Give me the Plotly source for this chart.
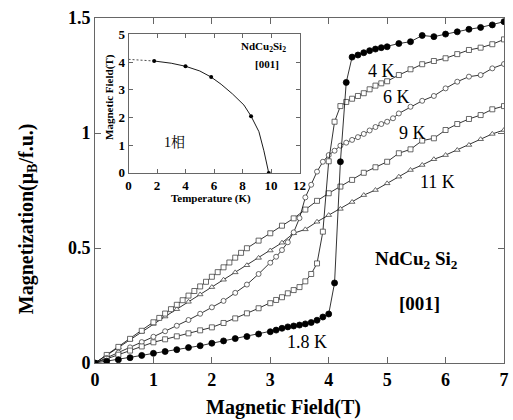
import plotly.graph_objects as go

# ---------------- data ----------------
B_18 = [0, 0.2, 0.4, 0.6, 0.8, 1.0, 1.2, 1.4, 1.6, 1.8, 2.0, 2.2, 2.4, 2.6, 2.8, 3.0, 3.1, 3.2, 3.3, 3.4,
        3.5, 3.6, 3.7, 3.8, 3.9, 4.0, 4.1, 4.2, 4.3, 4.4, 4.5, 4.6, 4.7, 4.8, 4.9, 5.0, 5.2, 5.4, 5.6, 5.8,
        6.0, 6.2, 6.4, 6.6, 6.8, 7.0]
M_18 = [0, 0.008, 0.014, 0.023, 0.033, 0.042, 0.05, 0.058, 0.067, 0.075, 0.086, 0.096, 0.106, 0.115, 0.126,
        0.136, 0.143, 0.151, 0.157, 0.161, 0.165, 0.17, 0.176, 0.186, 0.2, 0.213, 0.348, 0.875, 1.22, 1.33,
        1.339, 1.349, 1.358, 1.365, 1.371, 1.375, 1.389, 1.397, 1.424, 1.419, 1.43, 1.44, 1.451, 1.459,
        1.47, 1.484]

B_4 = [0, 0.2, 0.4, 0.6, 0.8, 1.0, 1.2, 1.4, 1.6, 1.8, 2.0, 2.2, 2.4, 2.6, 2.8, 3.0, 3.1, 3.2, 3.3, 3.4,
       3.5, 3.6, 3.7, 3.8, 3.9, 4.0, 4.1, 4.2, 4.3, 4.4, 4.5, 4.6, 4.7, 4.8, 4.9, 5.0, 5.2, 5.4, 5.6, 5.8,
       6.0, 6.2, 6.4, 6.6, 6.8, 7.0]
M_4 = [0, 0.018, 0.036, 0.054, 0.072, 0.09, 0.103, 0.116, 0.129, 0.142, 0.155, 0.174, 0.194, 0.216, 0.238,
       0.26, 0.274, 0.286, 0.303, 0.317, 0.33, 0.355, 0.387, 0.433, 0.571, 0.877, 1.049, 1.117, 1.135,
       1.149, 1.161, 1.173, 1.19, 1.206, 1.216, 1.225, 1.252, 1.277, 1.299, 1.313, 1.325, 1.343, 1.361,
       1.371, 1.386, 1.407]

B_6 = [0, 0.2, 0.4, 0.6, 0.8, 1.0, 1.2, 1.4, 1.6, 1.8, 2.0, 2.2, 2.4, 2.6, 2.8, 3.0, 3.1, 3.2, 3.3, 3.4,
       3.5, 3.6, 3.7, 3.8, 3.9, 4.0, 4.1, 4.2, 4.3, 4.4, 4.5, 4.6, 4.7, 4.8, 4.9, 5.0, 5.1, 5.2, 5.4, 5.6,
       5.8, 6.0, 6.2, 6.4, 6.6, 6.8, 7.0]
M_6 = [0, 0.022, 0.045, 0.068, 0.091, 0.114, 0.138, 0.162, 0.187, 0.214, 0.242, 0.27, 0.305, 0.341, 0.387,
       0.436, 0.462, 0.491, 0.525, 0.568, 0.63, 0.72, 0.775, 0.832, 0.875, 0.904, 0.923, 0.945, 0.958,
       0.97, 0.982, 0.996, 1.011, 1.026, 1.039, 1.049, 1.064, 1.085, 1.114, 1.14, 1.161, 1.194, 1.223,
       1.245, 1.252, 1.281, 1.30]

B_9 = [0, 0.2, 0.4, 0.6, 0.8, 1.0, 1.1, 1.2, 1.3, 1.4, 1.5, 1.6, 1.7, 1.8, 1.9, 2.0, 2.1, 2.2, 2.3, 2.4,
       2.5, 2.6, 2.8, 3.0, 3.2, 3.4, 3.6, 3.8, 4.0, 4.2, 4.4, 4.6, 4.8, 5.0, 5.2, 5.4, 5.6, 5.8, 6.0, 6.2,
       6.4, 6.6, 6.8, 7.0]
M_9 = [0, 0.035, 0.07, 0.105, 0.14, 0.177, 0.196, 0.215, 0.234, 0.253, 0.273, 0.293, 0.313, 0.333, 0.353,
       0.375, 0.395, 0.416, 0.437, 0.458, 0.479, 0.499, 0.532, 0.564, 0.597, 0.629, 0.667, 0.705, 0.738,
       0.767, 0.796, 0.827, 0.851, 0.875, 0.912, 0.929, 0.967, 0.977, 1.013, 1.039, 1.061, 1.078, 1.103,
       1.117]

B_11 = [0, 0.2, 0.4, 0.6, 0.8, 1.0, 1.2, 1.4, 1.6, 1.8, 2.0, 2.2, 2.4, 2.6, 2.8, 3.0, 3.2, 3.4, 3.6, 3.8,
        4.0, 4.2, 4.4, 4.6, 4.8, 5.0, 5.2, 5.4, 5.6, 5.8, 6.0, 6.2, 6.4, 6.6, 6.8, 7.0]
M_11 = [0, 0.034, 0.068, 0.102, 0.136, 0.17, 0.202, 0.234, 0.266, 0.298, 0.33, 0.362, 0.394, 0.425, 0.457,
        0.489, 0.523, 0.564, 0.581, 0.614, 0.643, 0.67, 0.70, 0.73, 0.752, 0.781, 0.81, 0.839, 0.861, 0.886,
        0.904, 0.926, 0.948, 0.973, 0.996, 1.013]

# inset phase boundary
T_pts = [1.8, 4.0, 5.8, 8.6, 9.84]
H_pts = [4.04, 3.85, 3.46, 2.05, 0.0]
T_line = [1.8, 3.0, 4.0, 5.0, 5.8, 6.5, 7.3, 8.1, 8.6, 9.15, 9.5, 9.84]
H_line = [4.04, 3.96, 3.85, 3.68, 3.46, 3.2, 2.85, 2.45, 2.05, 1.49, 0.8, 0.0]
T_dash = [0, 1.8]
H_dash = [4.1, 4.04]

x_ticks = [0, 1, 2, 3, 4, 5, 6, 7]
y_ticks = [0, 0.5, 1, 1.5]
y_ticklabels = ["0", "0.5", "1", "1.5"]
ix_ticks = [0, 2, 4, 6, 8, 10, 12]
iy_ticks = [0, 1, 2, 3, 4, 5]

SERIF = "Liberation Serif, Times New Roman, Noto Serif CJK SC, Noto Sans CJK SC, serif"
AX = "#666666"
LINE = dict(color="black", width=0.8)
MC = "#444444"

fig = go.Figure()

def add(x, y, symbol, size, filled=False):
    fig.add_trace(go.Scatter(
        x=x, y=y, mode="lines+markers", line=LINE,
        marker=dict(symbol=symbol, size=size,
                    color="black" if filled else "white",
                    line=dict(color="black" if filled else MC, width=0.8)),
        showlegend=False, cliponaxis=True))

add(B_11, M_11, "triangle-up", 5)
add(B_9, M_9, "square", 5)
add(B_6, M_6, "circle", 5)
add(B_4, M_4, "square", 5)
add(B_18, M_18, "circle", 6, filled=True)

# inset
fig.add_trace(go.Scatter(x=T_dash, y=H_dash, mode="lines", line=dict(color="black", width=0.7, dash="2px,2px"),
                         xaxis="x2", yaxis="y2", showlegend=False))
fig.add_trace(go.Scatter(x=T_line, y=H_line, mode="lines", line=dict(color="black", width=0.9),
                         xaxis="x2", yaxis="y2", showlegend=False))
fig.add_trace(go.Scatter(x=T_pts, y=H_pts, mode="markers", marker=dict(color="black", size=4),
                         xaxis="x2", yaxis="y2", showlegend=False))

axis_common = dict(showline=True, linecolor=AX, linewidth=1, mirror="ticks", ticks="inside",
                   tickcolor=AX, showgrid=False, zeroline=False)

fig.update_layout(
    width=513, height=420,
    margin=dict(l=95, r=2, t=18, b=57),
    paper_bgcolor="white", plot_bgcolor="white",
    font=dict(family=SERIF, color="black"),
    xaxis=dict(range=[0, 7], tickvals=x_ticks, ticktext=[str(v) for v in x_ticks], ticklen=6,
               tickfont=dict(family=SERIF, size=18, weight="bold"), **axis_common),
    yaxis=dict(range=[0, 1.5], tickvals=y_ticks, ticktext=y_ticklabels, ticklen=6,
               tickfont=dict(family=SERIF, size=18, weight="bold"), **axis_common),
    xaxis2=dict(domain=[0.082, 0.5], anchor="y2", range=[0, 12], tickvals=ix_ticks,
                ticktext=[str(v) for v in ix_ticks], ticklen=4,
                tickfont=dict(family=SERIF, size=13, weight="bold"), **axis_common),
    yaxis2=dict(domain=[0.551, 0.954], anchor="x2", range=[0, 5.02], tickvals=iy_ticks,
                ticktext=[str(v) for v in iy_ticks], ticklen=4,
                tickfont=dict(family=SERIF, size=13, weight="bold"), **axis_common),
)

ann = []
def txt(x, y, t, size, bold=False, xref="x", yref="y", angle=0, xanchor="center", yanchor="middle"):
    ann.append(dict(x=x, y=y, xref=xref, yref=yref, text=t, showarrow=False, textangle=angle,
                    xanchor=xanchor, yanchor=yanchor,
                    font=dict(family=SERIF, size=size, color="black", weight="bold" if bold else "normal")))

txt(4.9, 1.27, "4 K", 18)
txt(5.16, 1.158, "6 K", 18)
txt(5.44, 1.0, "9 K", 18)
txt(5.86, 0.788, "11 K", 18)
txt(3.62, 0.09, "1.8 K", 18)
txt(5.5, 0.448, "NdCu<sub>2</sub> Si<sub>2</sub>", 19, bold=True)
txt(5.56, 0.26, "[001]", 19, bold=True)
txt(0.462, -0.128, "Magnetic Field(T)", 20, bold=True, xref="paper", yref="paper")
txt(-0.166, 0.417, "Magnetization(μ<sub>B</sub>/f.u.)", 20, bold=True, xref="paper", yref="paper", angle=-90)
# inset texts
txt(9.5, 4.54, "NdCu<sub>2</sub>Si<sub>2</sub>", 11, bold=True, xref="x2", yref="y2")
txt(9.72, 3.95, "[001]", 11, bold=True, xref="x2", yref="y2")
txt(3.2, 1.1, "1相", 14, xref="x2", yref="y2")
txt(0.284, 0.478, "Temperature (K)", 11, bold=True, xref="paper", yref="paper")
txt(0.034, 0.771, "Magnetic Field(T)", 11, bold=True, xref="paper", yref="paper", angle=-90)
fig.update_layout(annotations=ann)

fig.write_html("out.html", config={"displayModeBar": False},
               post_script="document.body.style.margin='0';document.body.style.padding='0';")
